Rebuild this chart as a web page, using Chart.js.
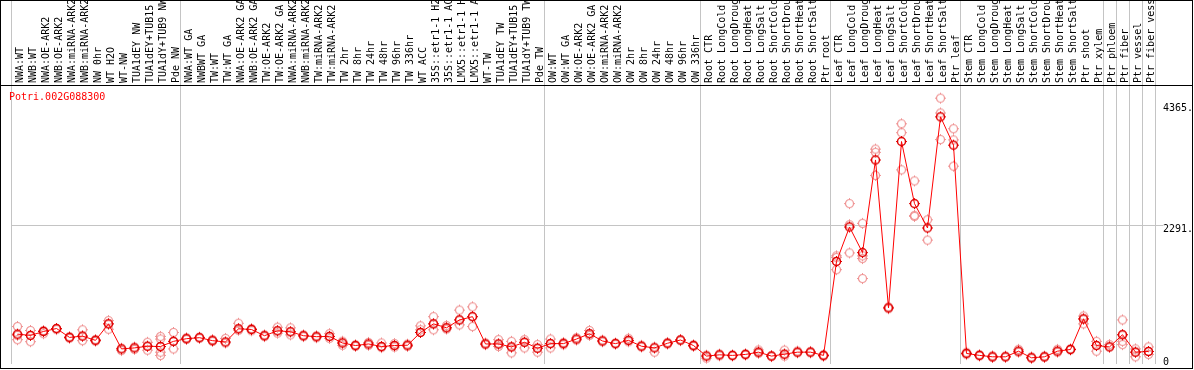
<!DOCTYPE html>
<html>
<head>
<meta charset="utf-8">
<script src="https://cdn.jsdelivr.net/npm/chart.js@4.4.1/dist/chart.umd.min.js"></script>
<style>
body { margin: 0; background: #fff; }
#wrap { position: relative; width: 1194px; height: 370px; }
#frame { position: absolute; left: 0; top: 0; width: 1191px; height: 367px; border: 1px solid #000; pointer-events: none; }
#sep { position: absolute; left: 0; top: 85px; width: 1193px; height: 1px; background: #000; }
#gene { position: absolute; left: 9px; top: 91px; color: #f00; font: 10px/12px "DejaVu Sans Mono", monospace; }
</style>
</head>
<body>
<div id="wrap">
  <canvas id="chart" width="1194" height="370"></canvas>
  <div id="sep"></div>
  <div id="frame"></div>
  <div id="gene"></div>
</div>
<script>
var geneName = 'Potri.002G088300';

var categories = [
	'NWA:WT', 'NWB:WT', 'NWA:OE-ARK2', 'NWB:OE-ARK2', 'NWA:miRNA-ARK2', 'NWB:miRNA-ARK2', 'NW 0hr', 'WT H2O', 'WT-NW',
	'TUA1dEY NW', 'TUA1dEY+TUB15', 'TUA1dY+TUB9 NW', 'Pde NW',
	'NWA:WT GA', 'NWBWT GA', 'TW:WT', 'TW:WT GA', 'NWA:OE-ARK2 GA', 'NWB:OE-ARK2 GA', 'TW:OE-ARK2', 'TW:OE-ARK2 GA',
	'NWA:miRNA-ARK2', 'NWB:miRNA-ARK2', 'TW:miRNA-ARK2', 'TW:miRNA-ARK2', 'TW 2hr', 'TW 8hr', 'TW 24hr', 'TW 48hr',
	'TW 96hr', 'TW 336hr', 'WT ACC', '35S::etr1-1 H2', '35S::etr1-1 AC', 'LMX5::etr1-1 H', 'LMX5::etr1-1 A', 'WT-TW',
	'TUA1dEY TW', 'TUA1dEY+TUB15', 'TUA1dY+TUB9 TW', 'Pde TW',
	'OW:WT', 'OW:WT GA', 'OW:OE-ARK2', 'OW:OE-ARK2 GA', 'OW:miRNA-ARK2', 'OW:miRNA-ARK2', 'OW 2hr', 'OW 8hr',
	'OW 24hr', 'OW 48hr', 'OW 96hr', 'OW 336hr',
	'Root CTR', 'Root LongCold', 'Root LongDroug', 'Root LongHeat', 'Root LongSalt', 'Root ShortCold', 'Root ShortDrou',
	'Root ShortHeat', 'Root ShortSalt', 'Ptr root',
	'Leaf CTR', 'Leaf LongCold', 'Leaf LongDroug', 'Leaf LongHeat', 'Leaf LongSalt', 'Leaf ShortCold', 'Leaf ShortDrou',
	'Leaf ShortHeat', 'Leaf ShortSalt', 'Ptr leaf',
	'Stem CTR', 'Stem LongCold', 'Stem LongDroug', 'Stem LongHeat', 'Stem LongSalt', 'Stem ShortCold', 'Stem ShortDrou',
	'Stem ShortHeat', 'Stem ShortSalt', 'Ptr shoot', 'Ptr xylem',
	'Ptr phloem', 'Ptr fiber', 'Ptr vessel', 'Ptr fiber vess'
];

// index of the first sample of each group (plus the end)
var groupStarts = [0, 13, 41, 53, 63, 73, 84, 85, 86, 87, 88];

var means = [
	412, 390, 458, 509, 356, 378, 305, 589, 158, 175, 204, 199, 288,
	334, 351, 300, 277, 504, 492, 385, 470, 453, 385, 368, 373, 260, 216, 243, 199, 216, 221, 441, 589, 521, 657, 713, 243, 243, 192, 272, 170,
	249, 249, 328, 419, 294, 249, 305, 204, 175, 255, 311, 216,
	34, 56, 46, 63, 102, 34, 68, 102, 102, 46,
	1663, 2257, 1816, 3411, 865, 3728, 2659, 2240, 4153, 3666,
	80, 46, 22, 22, 119, 5, 22, 119, 148, 674, 216,
	192, 402, 102, 114
];

var replicates = [
	[543, 390, 317], [475, 390, 283], [475, 458, 420], [509, 490], [370, 340], [487, 378, 300], [320, 290],
	[645, 589, 497], [170, 130], [190, 150], [272, 204, 136], [373, 328, 199, 102, 46], [441, 288, 158],
	[350, 320], [360, 340], [320, 290], [339, 260], [599, 504, 480], [510, 470], [400, 370], [531, 470, 429],
	[520, 453, 400], [400, 370], [385, 350], [420, 373, 340], [290, 260, 220], [230, 200], [270, 220],
	[260, 199, 180], [250, 216, 190], [240, 200], [555, 441, 487], [713, 589, 487], [560, 521, 500],
	[826, 657, 572], [882, 713, 543], [260, 230], [317, 243, 200], [288, 192, 90], [317, 272, 175], [232, 170, 102],
	[328, 249, 175], [270, 230], [350, 310], [475, 419, 390], [310, 280], [260, 240], [340, 305, 280], [220, 190],
	[190, 102], [270, 240], [320, 300], [230, 200],
	[50, 0], [70, 40], [55, 35], [75, 50], [140, 102, 80], [45, 25], [136, 68, 34], [120, 90], [115, 90], [60, 30],
	[1760, 1731, 1522], [2659, 2296, 1811], [2320, 1760, 1714, 1369], [3598, 3542, 3145], [880, 850],
	[4034, 3881, 3241], [3050, 2456, 2439], [2381, 2031], [4475, 4220, 3762], [3949, 3756, 3304],
	[100, 60], [60, 35], [40, 10], [35, 15], [150, 100], [20, 0], [35, 10], [150, 100], [160, 140],
	[724, 674, 589], [288, 216, 119],
	[232, 192], [657, 402, 288, 232], [158, 102, 22], [192, 114, 63]
];

var yTicks = [0, 2291, 4365];
var yTickLabels = ['0', '2291.', '4365.'];

document.getElementById('gene').textContent = geneName;

// hollow ring with four little spurs, like the original markers
function ringMarker(color, lw) {
	var c = document.createElement('canvas');
	c.width = 13;
	c.height = 13;
	var g = c.getContext('2d');
	g.strokeStyle = color;
	g.fillStyle = color;
	g.lineWidth = lw;
	g.beginPath();
	g.arc(6.5, 6.5, 4, 0, Math.PI * 2);
	g.stroke();
	g.fillRect(6, 1, 1, 1);
	g.fillRect(6, 11, 1, 1);
	g.fillRect(1, 6, 1, 1);
	g.fillRect(11, 6, 1, 1);
	return c;
}

var repPoints = [];
for (var i in replicates) {
	for (var j in replicates[i]) {
		repPoints.push({ x: Number(i), y: replicates[i][j] });
	}
}

var monoFont = { family: 'DejaVu Sans Mono', size: 10 };

var ctx = document.getElementById('chart');
var chart = new Chart(ctx, {
	type: 'line',
	data: {
		labels: categories,
		datasets: [
			{
				label: 'mean',
				data: means,
				borderColor: '#ff0000',
				borderWidth: 1,
				pointStyle: ringMarker('#e00000', 1.5),
				pointRadius: 5,
				tension: 0
			},
			{
				label: 'replicates',
				data: repPoints,
				xAxisID: 'xr',
				showLine: false,
				pointStyle: ringMarker('rgba(238,140,140,0.95)', 1.2),
				pointRadius: 5
			}
		]
	},
	options: {
		responsive: false,
		animation: false,
		events: [],
		layout: { padding: { left: 11, right: 0, top: 0, bottom: 2 } },
		plugins: { legend: { display: false }, tooltip: { enabled: false } },
		scales: {
			x: {
				type: 'category',
				position: 'top',
				offset: true,
				grid: {
					offset: true,
					tickLength: 86,
					lineWidth: 1,
					color: function(c) {
						if (c.type !== 'tick' || groupStarts.indexOf(c.index) >= 0) return '#c4c4c4';
						return 'rgba(0,0,0,0)';
					}
				},
				border: { display: false },
				ticks: {
					autoSkip: false,
					minRotation: 90,
					maxRotation: 90,
					padding: -83,
					labelOffset: 15,
					color: '#000',
					font: monoFont
				},
				afterFit: function(s) { s.height = 86; }
			},
			xr: {
				type: 'linear',
				display: false,
				min: -0.5,
				max: categories.length - 0.5
			},
			y: {
				position: 'right',
				min: -102,
				max: 4684,
				afterBuildTicks: function(s) {
					s.ticks = yTicks.map(function(v) { return { value: v }; });
				},
				grid: {
					tickLength: 8,
					color: function(c) {
						return c.tick && c.tick.value === 2291 ? '#c4c4c4' : 'rgba(0,0,0,0)';
					}
				},
				border: { display: false },
				ticks: {
					padding: 0,
					labelOffset: 4,
					color: '#000',
					font: monoFont,
					callback: function(v, idx) { return yTickLabels[idx]; }
				},
				afterFit: function(s) { s.width = 39; }
			}
		}
	}
});
</script>
</body>
</html>
